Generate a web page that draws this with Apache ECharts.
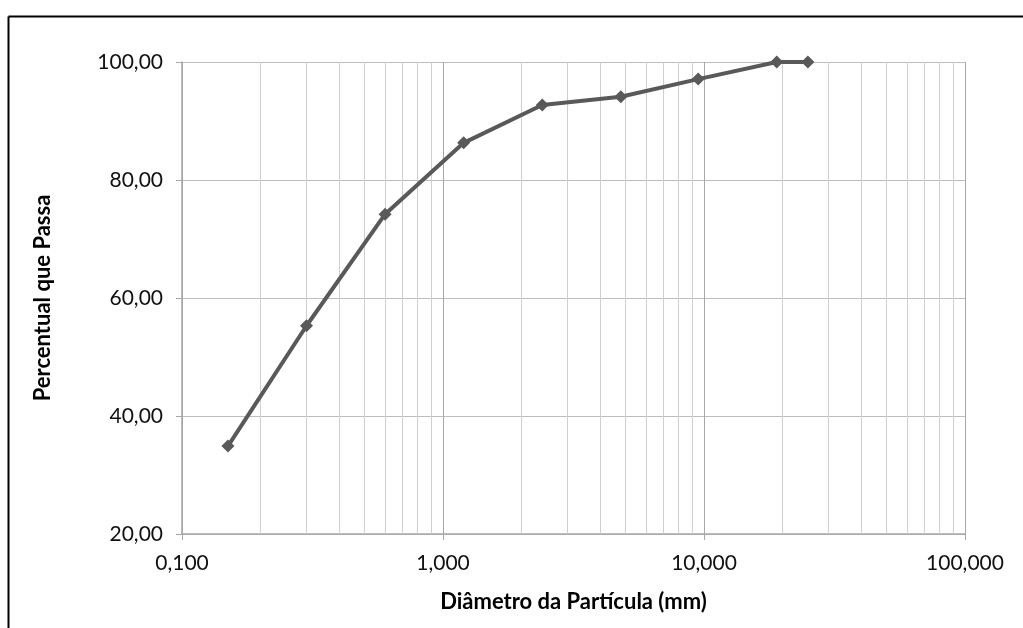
<!DOCTYPE html>
<html>
<head>
<meta charset="utf-8">
<script src="https://cdn.jsdelivr.net/npm/echarts@6/dist/echarts.min.js"></script>
<style>
html,body{margin:0;padding:0;background:#fff;}
#chart{width:1023px;height:628px;}
</style>
</head>
<body>
<div id="chart"></div>
<script>
// Particle diameter (mm) and percent passing
const diameters = [0.15, 0.3, 0.6, 1.2, 2.4, 4.8, 9.5, 19, 25];
const percentPassing = [34.9, 55.3, 74.2, 86.3, 92.7, 94.1, 97.1, 100.0, 100.0];
// minor log grid positions
const minorGrid = [0.2,0.3,0.4,0.5,0.6,0.7,0.8,0.9, 2,3,4,5,6,7,8,9, 20,30,40,50,60,70,80,90];
const xTitle = 'Diâmetro da Partícula (mm)';
const yTitle = 'Percentual que Passa';

const FONT = 'Lato';
const chart = echarts.init(document.getElementById('chart'));
chart.setOption({
  animation: false,
  backgroundColor: '#fff',
  grid: { left: 182, right: 58, top: 62, bottom: 94, containLabel: false },
  graphic: [
    { type: 'line', shape: { x1: 8.5, y1: 16.5, x2: 1023, y2: 16.5 }, style: { stroke: '#000', lineWidth: 2 } },
    { type: 'line', shape: { x1: 8.5, y1: 16.5, x2: 8.5, y2: 628 }, style: { stroke: '#000', lineWidth: 2 } }
  ],
  xAxis: {
    type: 'log', logBase: 10, min: 0.1, max: 100,
    name: xTitle, nameLocation: 'middle', nameGap: 57,
    nameTextStyle: { fontFamily: FONT, fontWeight: 'bold', fontSize: 22, color: '#000' },
    axisLine: { show: true, lineStyle: { color: '#a6a6a6', width: 1.5 } },
    axisTick: { show: true, length: 6, lineStyle: { color: '#a6a6a6' } },
    axisLabel: { fontFamily: FONT, fontSize: 21, color: '#111', margin: 19,
      formatter: v => Number(v).toFixed(3).replace('.', ',') },
    splitLine: { show: true, lineStyle: { color: '#a8a8a8', width: 1 } }
  },
  yAxis: {
    type: 'value', min: 20, max: 100, interval: 20,
    name: yTitle, nameLocation: 'middle', nameGap: 128, nameRotate: 90,
    nameTextStyle: { fontFamily: FONT, fontWeight: 'bold', fontSize: 22, color: '#000' },
    axisLine: { show: true, lineStyle: { color: '#a6a6a6', width: 1.5 } },
    axisTick: { show: true, length: 6, lineStyle: { color: '#a6a6a6' } },
    axisLabel: { fontFamily: FONT, fontSize: 21, color: '#111', margin: 19,
      formatter: v => Number(v).toFixed(2).replace('.', ',') },
    splitLine: { show: true, lineStyle: { color: '#bdbdbd', width: 1 } }
  },
  series: [
    {
      type: 'line', data: [], z: 1, silent: true,
      markLine: {
        silent: true, symbol: 'none', animation: false,
        label: { show: false },
        lineStyle: { type: 'solid', color: '#cfcfcf', width: 1 },
        data: minorGrid.map(v => ({ xAxis: v }))
      }
    },
    {
      type: 'line', z: 5,
      data: diameters.map((d, i) => [d, percentPassing[i]]),
      symbol: 'diamond', symbolSize: 13,
      lineStyle: { color: '#595959', width: 4 },
      itemStyle: { color: '#595959' }
    }
  ]
});
</script>
</body>
</html>
